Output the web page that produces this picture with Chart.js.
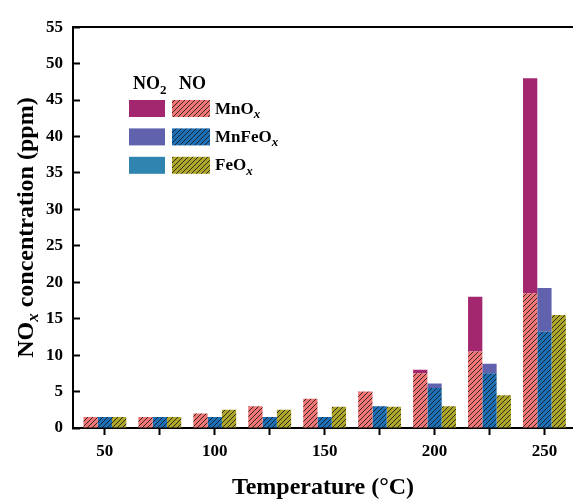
<!DOCTYPE html>
<html>
<head>
<meta charset="utf-8">
<script src="https://cdn.jsdelivr.net/npm/chart.js@4.4.1/dist/chart.umd.min.js"></script>
<style>
  html, body { margin: 0; padding: 0; background: #fff; overflow: hidden; }
  #wrap { width: 573px; height: 499px; }
</style>
</head>
<body>
<div id="wrap"><canvas id="myChart" width="573" height="499"></canvas></div>
<script>
// temperatures (°C)
const temps = [50, 75, 100, 125, 150, 175, 200, 225, 250];
const xTickValues = [50, 75, 100, 125, 150, 175, 200, 225, 250];

// NO part (hatched, bottom) and NO2 part (solid, stacked on top), ppm
const noMnOx = [1.5, 1.5, 2, 3, 4, 5, 7.5, 10.5, 18.5];
const no2MnOx = [0, 0, 0, 0, 0, 0, 0.5, 7.5, 29.5];
const noMnFeOx = [1.5, 1.5, 1.5, 1.5, 1.5, 3, 5.5, 7.5, 13.2];
const no2MnFeOx = [0, 0, 0, 0, 0, 0, 0.6, 1.3, 6];
const noFeOx = [1.5, 1.5, 2.5, 2.5, 2.9, 2.9, 3, 4.5, 15.5];
const no2FeOx = [0, 0, 0, 0, 0, 0, 0, 0, 0];

const serif = "'Liberation Serif', 'Times New Roman', serif";

const colors = {
  mnNo2: "#a3276f",
  mnNo: "#f07676",
  mnfeNo2: "#6062ad",
  mnfeNo: "#1d6fb6",
  feNo2: "#2f84b0",
  feNo: "#aea62a",
};

function hatch(color) {
  const c = document.createElement("canvas");
  c.width = 5;
  c.height = 5;
  const g = c.getContext("2d");
  g.fillStyle = color;
  g.fillRect(0, 0, 5, 5);
  g.strokeStyle = "rgba(25,25,25,0.85)";
  g.lineWidth = 1;
  g.beginPath();
  g.moveTo(0, 5); g.lineTo(5, 0);
  g.moveTo(-1, 1); g.lineTo(1, -1);
  g.moveTo(4, 6); g.lineTo(6, 4);
  g.stroke();
  return g.createPattern(c, "repeat");
}

const toPoints = (arr) => arr.map((v, i) => ({ x: temps[i], y: v }));

const rows = [
  { name: "MnO", no2: colors.mnNo2, no: colors.mnNo },
  { name: "MnFeO", no2: colors.mnfeNo2, no: colors.mnfeNo },
  { name: "FeO", no2: colors.feNo2, no: colors.feNo },
];

// legend (two columns: NO2 solid / NO hatched) + rotated y title with subscript
const extras = {
  id: "extras",
  afterDraw(chart) {
    const ctx = chart.ctx;
    const area = chart.chartArea;
    ctx.save();
    ctx.fillStyle = "#000";
    ctx.textBaseline = "alphabetic";

    // headers
    ctx.font = "bold 18px " + serif;
    ctx.fillText("NO", 133, 89);
    let w = ctx.measureText("NO").width;
    ctx.font = "bold 13px " + serif;
    ctx.fillText("2", 133 + w, 94);
    ctx.font = "bold 18px " + serif;
    ctx.fillText("NO", 179, 89);

    rows.forEach((r, i) => {
      const y = 100 + i * 28.4;
      ctx.fillStyle = r.no2;
      ctx.fillRect(129, y, 36, 17);
      ctx.fillStyle = hatch(r.no);
      ctx.fillRect(172, y, 38, 17);
      ctx.fillStyle = "#000";
      ctx.font = "bold 17px " + serif;
      ctx.fillText(r.name, 215, y + 13.5);
      const tw = ctx.measureText(r.name).width;
      ctx.font = "italic bold 13px " + serif;
      ctx.fillText("x", 215 + tw, y + 18);
    });

    // y axis title
    const cy = (area.top + area.bottom) / 2;
    ctx.translate(33, cy);
    ctx.rotate(-Math.PI / 2);
    const big = "bold 24px " + serif;
    const sub = "italic bold 17px " + serif;
    ctx.font = big;
    const w1 = ctx.measureText("NO").width;
    const w3 = ctx.measureText(" concentration (ppm)").width;
    ctx.font = sub;
    const w2 = ctx.measureText("x").width;
    let x0 = -(w1 + w2 + w3) / 2;
    ctx.font = big;
    ctx.fillText("NO", x0, 0);
    ctx.font = sub;
    ctx.fillText("x", x0 + w1, 5);
    ctx.font = big;
    ctx.fillText(" concentration (ppm)", x0 + w1 + w2, 0);
    ctx.restore();
  },
};

new Chart(document.getElementById("myChart"), {
  type: "bar",
  data: {
    datasets: [
      { label: "NO MnOx", data: toPoints(noMnOx), stack: "Mn", backgroundColor: hatch(colors.mnNo) },
      { label: "NO2 MnOx", data: toPoints(no2MnOx), stack: "Mn", backgroundColor: colors.mnNo2 },
      { label: "NO MnFeOx", data: toPoints(noMnFeOx), stack: "MnFe", backgroundColor: hatch(colors.mnfeNo) },
      { label: "NO2 MnFeOx", data: toPoints(no2MnFeOx), stack: "MnFe", backgroundColor: colors.mnfeNo2 },
      { label: "NO FeOx", data: toPoints(noFeOx), stack: "Fe", backgroundColor: hatch(colors.feNo) },
      { label: "NO2 FeOx", data: toPoints(no2FeOx), stack: "Fe", backgroundColor: colors.feNo2 },
    ],
  },
  options: {
    responsive: false,
    animation: false,
    devicePixelRatio: 1,
    categoryPercentage: 0.78,
    barPercentage: 1,
    borderWidth: 0,
    layout: { padding: { top: 20, left: 0, right: 0, bottom: 0 } },
    plugins: { legend: { display: false }, tooltip: { enabled: false } },
    scales: {
      x: {
        type: "linear",
        position: "bottom",
        min: 35.5,
        max: 263,
        offset: false,
        afterBuildTicks: (s) => { s.ticks = xTickValues.map((v) => ({ value: v })); },
        afterFit: (s) => { s.height = 71; },
        grid: { drawOnChartArea: false, offset: false, tickLength: 7, tickWidth: 2, tickColor: "#000" },
        border: { display: true, color: "#000", width: 2 },
        ticks: {
          autoSkip: false,
          maxRotation: 0,
          padding: 6,
          color: "#000",
          font: { family: serif, size: 17, weight: "bold" },
          callback: (v) => (v % 50 === 0 ? String(v) : ""),
        },
        title: {
          display: true,
          text: "Temperature (°C)",
          color: "#000",
          font: { family: serif, size: 24, weight: "bold" },
          padding: { top: 0, bottom: -3 },
        },
      },
      xTop: {
        type: "linear",
        position: "top",
        min: 35.5,
        max: 263,
        afterFit: (s) => { s.height = 0; },
        grid: { drawOnChartArea: false, drawTicks: false },
        border: { display: true, color: "#000", width: 2 },
        ticks: { display: false },
      },
      y: {
        min: 0,
        max: 55,
        afterFit: (s) => { s.width = 73; },
        grid: { drawOnChartArea: false, tickLength: -7, tickWidth: 2, tickColor: "#000" },
        border: { display: true, color: "#000", width: 2 },
        ticks: {
          stepSize: 5,
          padding: 17,
          color: "#000",
          font: { family: serif, size: 17, weight: "bold" },
        },
      },
    },
  },
  plugins: [extras],
});
</script>
</body>
</html>
